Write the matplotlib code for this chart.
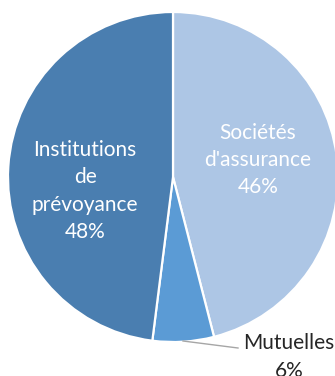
import matplotlib
matplotlib.use('Agg')
import matplotlib.pyplot as plt

# parts de marché par type d'organisme
labels = ["Sociétés\nd'assurance", "Mutuelles", "Institutions\nde\nprévoyance"]
shares = [46, 6, 48]
colors = ["#ADC6E5", "#5B9BD5", "#4A7EB0"]

W, H = 335, 376
R_PX = 165.0
CX, CY = 173.0, 177.0

fig = plt.figure(figsize=(W / 100, H / 100), dpi=100)
ax = fig.add_axes([0, 0, 1, 1])
ax.axis('off')

wedges, _ = ax.pie(shares, colors=colors, startangle=90, counterclock=False,
                   radius=1.0, wedgeprops=dict(edgecolor='white', linewidth=1.6))

ax.set_xlim(-CX / R_PX, (W - CX) / R_PX)
ax.set_ylim(-(H - CY) / R_PX, CY / R_PX)
ax.set_aspect('equal')

font = dict(family=['Lato', 'DejaVu Sans'], fontsize=15)

def px(x, y):
    return (x - CX) / R_PX, (CY - y) / R_PX

# étiquettes internes
x, y = px(258, 160)
ax.text(x, y, f"{labels[0]}\n{shares[0]}%", ha='center', va='center',
        color='white', linespacing=1.45, **font)
x, y = px(85, 191)
ax.text(x, y, f"{labels[2]}\n{shares[2]}%", ha='center', va='center',
        color='white', linespacing=1.45, **font)

# étiquette externe avec ligne de rappel
x0, y0 = px(183, 341)
x1, y1 = px(238, 348)
ax.plot([x0, x1], [y0, y1], color='#A6A6A6', linewidth=1.0)
x, y = px(289, 357)
ax.text(x, y, f"{labels[1]}\n{shares[1]}%", ha='center', va='center',
        color='#262626', linespacing=1.45, **font)

fig.savefig('out.png', dpi=100, facecolor='white')
